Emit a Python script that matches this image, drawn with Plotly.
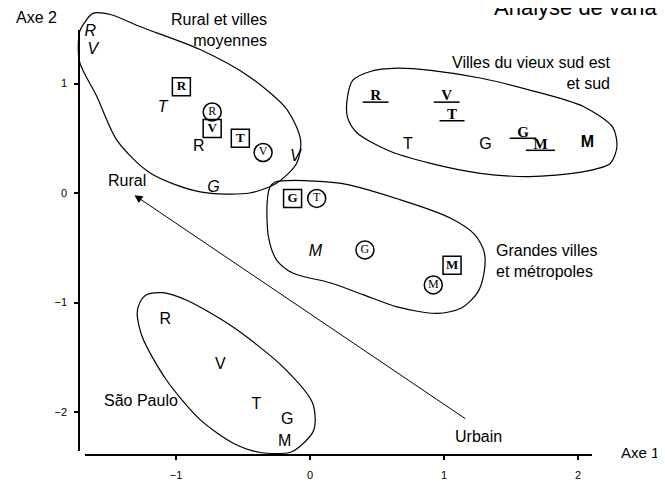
import plotly.graph_objects as go

# ---- data (in axis units) ----
plain_lab = ["R", "T", "G", "R", "V", "T", "G", "M"]
plain_x = [-0.83, 0.73, 1.31, -1.08, -0.67, -0.40, -0.17, -0.19]
plain_y = [0.42, 0.44, 0.44, -1.16, -1.57, -1.94, -2.07, -2.27]

bold_lab = ["M"]
bold_x = [2.07]
bold_y = [0.46]

italic_lab = ["R", "V", "T", "V", "G", "M"]
italic_x = [-1.64, -1.62, -1.10, -0.11, -0.72, 0.04]
italic_y = [1.47, 1.31, 0.78, 0.33, 0.05, -0.54]

boxed_lab = ["R", "V", "T", "G", "M"]
boxed_x = [-0.96, -0.73, -0.52, -0.13, 1.06]
boxed_y = [0.97, 0.59, 0.50, -0.05, -0.66]

circled_lab = ["R", "V", "T", "G", "M"]
circled_x = [-0.73, -0.35, 0.05, 0.41, 0.92]
circled_y = [0.74, 0.37, -0.05, -0.52, -0.84]

underl_lab = ["R", "V", "T", "G", "M"]
underl_x = [0.49, 1.02, 1.06, 1.59, 1.72]
underl_y = [0.88, 0.88, 0.71, 0.55, 0.44]

# hand-drawn enclosures around the groups
rural_cx = [-1.72, -1.72, -1.68, -1.62, -1.49, -1.27, -0.82, -0.45, -0.17, -0.07,
            -0.10, -0.25, -0.45, -0.82, -1.19, -1.44, -1.59, -1.72]
rural_cy = [1.20, 1.47, 1.56, 1.64, 1.63, 1.52, 1.31, 1.06, 0.76, 0.48,
            0.27, 0.09, 0.00, 0.01, 0.18, 0.48, 0.88, 1.20]

sud_cx = [0.28, 0.32, 0.45, 0.65, 0.90, 1.27, 1.64, 2.04, 2.26, 2.29, 2.24, 2.02,
          1.64, 1.27, 0.90, 0.58, 0.35, 0.28, 0.28]
sud_cy = [0.88, 1.03, 1.11, 1.14, 1.12, 1.05, 0.94, 0.79, 0.60, 0.42, 0.27, 0.19,
          0.15, 0.18, 0.27, 0.39, 0.55, 0.69, 0.88]

grandes_cx = [-0.26, 0.22, 0.67, 1.05, 1.23, 1.30, 1.30, 1.25, 1.13, 0.95, 0.65,
              0.40, 0.15, -0.13, -0.25, -0.31, -0.32, -0.30, -0.26]
grandes_cy = [0.10, 0.09, -0.06, -0.23, -0.38, -0.54, -0.72, -0.91, -1.05, -1.10,
              -1.04, -0.93, -0.82, -0.73, -0.61, -0.40, -0.09, 0.05, 0.10]

sp_cx = [-1.27, -1.22, -1.10, -0.92, -0.58, -0.20, 0.02, 0.03, -0.08, -0.15,
         -0.37, -0.58, -0.82, -1.07, -1.25, -1.29, -1.27]
sp_cy = [-1.00, -0.93, -0.91, -0.98, -1.22, -1.59, -1.92, -2.16, -2.32, -2.37,
         -2.37, -2.28, -2.07, -1.71, -1.32, -1.10, -1.00]

# Rural <- Urbain direction
arrow_from = (1.17, -2.07)
arrow_to = (-1.31, -0.02)

x_ticks = [-1, 0, 1, 2]
y_ticks = [-2, -1, 0, 1]

# ---- page frame ----
PAGE_W, PAGE_H = 665, 484
OFF = 8                       # default body margin of the html page
W, H = PAGE_W - OFF, PAGE_H - OFF
X0, Y0 = 310, 193             # page pixel of (0, 0)
SX, SY = 134, 109.5           # pixels per unit


def ux(px):
    return (px - X0) / SX


def uy(py):
    return (Y0 - py) / SY


def fx(px):
    # page pixel -> paper fraction
    return (px - OFF) / W


def fy(py):
    return 1 - (py - OFF) / H


FONT = "Liberation Sans"
SERIF = "Liberation Serif"
ink = "black"
pad = "\u00a0\u00a0"          # widens the underline like in the scan

fig = go.Figure()

# enclosures on a full-page overlay so they are not clipped by the axes box
for cx, cy in [(rural_cx, rural_cy), (sud_cx, sud_cy),
               (grandes_cx, grandes_cy), (sp_cx, sp_cy)]:
    fig.add_trace(go.Scatter(x=cx, y=cy, mode="lines", xaxis="x2", yaxis="y2",
                             line=dict(color=ink, width=1.2, shape="spline", smoothing=0.8),
                             hoverinfo="skip"))

fig.add_trace(go.Scatter(x=plain_x, y=plain_y, text=plain_lab, mode="text",
                         cliponaxis=False,
                         textfont=dict(family=FONT, size=16, color=ink)))
fig.add_trace(go.Scatter(x=bold_x, y=bold_y, text=bold_lab, mode="text",
                         cliponaxis=False,
                         textfont=dict(family=FONT, size=16, color=ink, weight="bold")))
fig.add_trace(go.Scatter(x=italic_x, y=italic_y, text=italic_lab, mode="text",
                         cliponaxis=False,
                         textfont=dict(family=FONT, size=16, color=ink, style="italic")))
fig.add_trace(go.Scatter(x=boxed_x, y=boxed_y, text=boxed_lab, mode="markers+text",
                         cliponaxis=False, textposition="middle center",
                         marker=dict(symbol="square-open", size=18, color=ink,
                                     line=dict(width=1.5, color=ink)),
                         textfont=dict(family=SERIF, size=13, color=ink, weight="bold")))
fig.add_trace(go.Scatter(x=circled_x, y=circled_y, text=circled_lab, mode="markers+text",
                         cliponaxis=False, textposition="middle center",
                         marker=dict(symbol="circle-open", size=18, color=ink,
                                     line=dict(width=1.5, color=ink)),
                         textfont=dict(family=SERIF, size=12, color=ink)))
fig.add_trace(go.Scatter(x=underl_x, y=underl_y, text=[pad + t + pad for t in underl_lab],
                         mode="text", cliponaxis=False,
                         textfont=dict(family=SERIF, size=15, color=ink, weight="bold",
                                       lineposition="under")))

notes = [
    ("Axe 2", ux(36), uy(17), "center"),
    ("Rural", ux(127), uy(180), "center"),
    ("Urbain", ux(478), uy(436), "center"),
    ("São Paulo", ux(141), uy(400), "center"),
    ("Rural et villes<br>moyennes", ux(269), uy(30), "right"),
    ("Villes du vieux sud est<br>et sud", ux(613), uy(73), "right"),
    ("Grandes villes<br>et métropoles", ux(494), uy(261), "left"),
]
for txt, x, y, xa in notes:
    fig.add_annotation(text=txt, x=x, y=y, xref="x2", yref="y2", showarrow=False,
                       xanchor=xa, yanchor="middle", align=xa,
                       font=dict(family=FONT, size=16, color=ink))

fig.add_annotation(text="Axe 1", x=fx(661), y=fy(452), xref="paper", yref="paper",
                   xanchor="right", yanchor="middle", showarrow=False,
                   font=dict(family=FONT, size=15, color=ink))

# title running off the top edge, as in the scan
fig.add_annotation(text="Analyse de variance", x=fx(492), y=fy(22),
                   xref="paper", yref="paper", xanchor="left", yanchor="bottom",
                   showarrow=False, font=dict(family=FONT, size=22, color=ink))

fig.add_annotation(x=arrow_to[0], y=arrow_to[1], ax=arrow_from[0], ay=arrow_from[1],
                   xref="x2", yref="y2", axref="x2", ayref="y2", text="",
                   showarrow=True, arrowhead=2, arrowsize=1.6, arrowwidth=1,
                   arrowcolor=ink)

axis_style = dict(showline=True, linecolor=ink, linewidth=1.6, ticks="outside",
                  ticklen=4, tickwidth=2, tickcolor=ink, showgrid=False,
                  zeroline=False, automargin=False,
                  tickfont=dict(family=FONT, size=11, color=ink))

fig.update_layout(
    width=W, height=H,
    margin=dict(l=0, r=0, t=0, b=0),
    paper_bgcolor="white",
    plot_bgcolor="rgba(0,0,0,0)",
    showlegend=False,
    xaxis=dict(domain=[fx(85), fx(592)], range=[ux(85), ux(592)],
               anchor="free", position=fy(455), tickvals=x_ticks,
               ticklabelstandoff=6, **axis_style),
    yaxis=dict(domain=[fy(451), fy(30)], range=[uy(451), uy(30)],
               anchor="free", position=fx(79), tickvals=y_ticks,
               ticklabelstandoff=5, **axis_style),
    xaxis2=dict(domain=[0, 1], range=[ux(OFF), ux(PAGE_W)], anchor="y2",
                visible=False, automargin=False),
    yaxis2=dict(domain=[0, 1], range=[uy(PAGE_H), uy(OFF)], anchor="x2",
                visible=False, automargin=False),
)

fig.write_html("out.html")
